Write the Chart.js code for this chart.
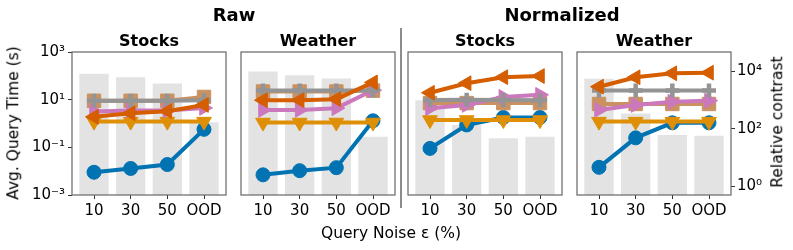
<!DOCTYPE html>
<html>
<head>
<meta charset="utf-8">
<script src="https://cdn.jsdelivr.net/npm/chart.js@4.4.1/dist/chart.umd.min.js"></script>
<style>
  html, body { margin: 0; padding: 0; background: #fff; }
  #wrap { position: relative; width: 793px; height: 250px; overflow: hidden; font-family: "DejaVu Sans", sans-serif; color: #000; }
  #wrap canvas { position: absolute; left: 0; top: 0; }
  .txt { position: absolute; white-space: nowrap; transform: translate(-50%, -50%); line-height: 1; }
  .big { font-size: 18px; font-weight: bold; }
  .sub { font-size: 16px; font-weight: bold; }
  .lab { font-size: 15.5px; }
  .rot { transform: translate(-50%, -50%) rotate(-90deg); }
  #divider { position: absolute; left: 400px; top: 28px; width: 2px; height: 180px; background: #8c8c8c; }
</style>
</head>
<body>
<div id="wrap">
  <canvas id="c1" width="793" height="250"></canvas>
  <canvas id="c2" width="793" height="250"></canvas>
  <canvas id="c3" width="793" height="250"></canvas>
  <canvas id="c4" width="793" height="250"></canvas>
  <div id="divider"></div>
  <div class="txt big" style="left:234px;top:15px">Raw</div>
  <div class="txt big" style="left:562px;top:15px">Normalized</div>
  <div class="txt sub" style="left:149px;top:41px">Stocks</div>
  <div class="txt sub" style="left:318px;top:41px">Weather</div>
  <div class="txt sub" style="left:485px;top:41px">Stocks</div>
  <div class="txt sub" style="left:654px;top:41px">Weather</div>
  <div class="txt lab" style="left:391px;top:234px">Query Noise ε (%)</div>
  <div class="txt lab rot" style="left:14px;top:123px">Avg. Query Time (s)</div>
  <div class="txt lab rot" style="left:778px;top:122px">Relative contrast</div>
</div>
<script>
  const categories = ['10', '30', '50', 'OOD'];
  const timeTicks = [1e-3, 1e-1, 1e1, 1e3];
  const contrastTicks = [1, 1e2, 1e4];

  // rows: circle, down triangle, left triangle, right triangle, square, plus
  const rawStocksTime = [
    [0.009, 0.013, 0.019, 0.57],
    [1.2, 1.2, 1.2, 1.2],
    [1.9, 2.7, 3.3, 6],
    [3.2, 3.5, 3.5, 4.5],
    [9, 9, 9, 13],
    [9, 9, 9, 9.5]
  ];
  const rawStocksContrast = [8300, 6300, 3800, 170];

  const rawWeatherTime = [
    [0.007, 0.0105, 0.014, 1.3],
    [1.1, 1.1, 1.1, 1.1],
    [9.5, 9.5, 10.5, 53],
    [3.7, 3.7, 4.4, 25],
    [22, 22, 22, 24],
    [24, 24, 24, 24]
  ];
  const rawWeatherContrast = [10000, 7400, 5700, 54];

  const normStocksTime = [
    [0.09, 0.87, 1.8, 1.8],
    [1.4, 1.4, 1.4, 1.4],
    [19.5, 49, 88, 98],
    [4.4, 6, 13, 16],
    [7.2, 7.2, 7.2, 7.2],
    [9.6, 10, 9.6, 9.5]
  ];
  const normStocksContrast = [1000, 138, 48, 54];

  const normWeatherTime = [
    [0.0145, 0.25, 1.07, 1.07],
    [1.2, 1.2, 1.2, 1.2],
    [35, 87, 128, 135],
    [3.7, 6, 8.2, 9.1],
    [6.6, 6.6, 6.6, 6.6],
    [24, 24, 24, 24]
  ];
  const normWeatherContrast = [5600, 345, 62, 58];

  // look of each series row, plus draw order (lower = on top)
  const seriesStyle = [
    { color: '#0173B2', point: 'circle',   rot: 0,   r: 7,   bw: 1,   order: 6 },
    { color: '#DE8F05', point: 'triangle', rot: 180, r: 8.5, bw: 1,   order: 5 },
    { color: '#D55E00', point: 'triangle', rot: 270, r: 8.5, bw: 1,   order: 1 },
    { color: '#CC78BC', point: 'triangle', rot: 90,  r: 8.5, bw: 1,   order: 3 },
    { color: '#CA9161', point: 'rect',     rot: 0,   r: 9.5, bw: 1,   order: 4 },
    { color: '#949494', point: 'cross',    rot: 0,   r: 7,   bw: 4.5, order: 2 }
  ];

  const sup = { '-3': '10⁻³', '-1': '10⁻¹', '0': '10⁰', '1': '10¹', '2': '10²', '3': '10³', '4': '10⁴' };
  const fmtPow = v => sup[String(Math.round(Math.log10(v)))] || '';

  const boxPlugin = {
    id: 'box',
    afterDatasetsDraw(chart) {
      const a = chart.chartArea, ctx = chart.ctx;
      ctx.save();
      ctx.strokeStyle = '#666';
      ctx.lineWidth = 1.2;
      ctx.strokeRect(a.left, a.top, a.right - a.left, a.bottom - a.top);
      ctx.restore();
    }
  };

  function makePanel(id, left, right, times, contrast, showLeft, showRight) {
    const toPts = arr => arr.map((v, i) => ({ x: i, y: v }));
    const datasets = [{
      type: 'bar',
      data: toPts(contrast),
      yAxisID: 'y2',
      backgroundColor: '#e3e3e3',
      barPercentage: 1,
      categoryPercentage: 0.8,
      order: 10
    }];
    times.forEach((row, k) => {
      const s = seriesStyle[k];
      datasets.push({
        type: 'line',
        data: toPts(row),
        yAxisID: 'y',
        borderColor: s.color,
        backgroundColor: s.color,
        borderWidth: 4,
        pointStyle: s.point,
        pointRotation: s.rot,
        pointRadius: s.r,
        pointBorderWidth: s.bw,
        pointBackgroundColor: s.color,
        pointBorderColor: s.color,
        tension: 0,
        order: s.order
      });
    });
    const tickFont = { family: 'DejaVu Sans', size: 15 };
    new Chart(document.getElementById(id), {
      type: 'line',
      data: { datasets },
      plugins: [boxPlugin],
      options: {
        responsive: false,
        animation: false,
        devicePixelRatio: 1,
        layout: { padding: { left: showLeft ? 0 : left, right: showRight ? 0 : 793 - right, top: 52, bottom: 25 } },
        plugins: { legend: { display: false }, tooltip: { enabled: false } },
        scales: {
          x: {
            type: 'linear', min: -0.6, max: 3.6, offset: false,
            afterBuildTicks: s => { s.ticks = categories.map((c, i) => ({ value: i })); },
            afterFit: s => { s.height = 30; },
            ticks: { callback: v => categories[v], font: tickFont, color: '#000', padding: 3, maxRotation: 0 },
            grid: { drawOnChartArea: false, offset: false, tickLength: 4, tickColor: '#333' },
            border: { display: false }
          },
          y: {
            type: 'logarithmic', position: 'left', min: 1e-3, max: 1e3,
            display: showLeft,
            afterBuildTicks: s => { s.ticks = timeTicks.map(v => ({ value: v })); },
            afterFit: s => { if (showLeft) s.width = left; },
            ticks: { callback: fmtPow, font: tickFont, color: '#000', padding: 3 },
            grid: { drawOnChartArea: false, tickLength: 4, tickColor: '#333' },
            border: { display: false }
          },
          y2: {
            type: 'logarithmic', position: 'right', min: 0.506, max: 47600,
            display: showRight,
            afterBuildTicks: s => { s.ticks = contrastTicks.map(v => ({ value: v })); },
            afterFit: s => { if (showRight) s.width = 793 - right; },
            ticks: { callback: fmtPow, font: tickFont, color: '#000', padding: 2 },
            grid: { drawOnChartArea: false, tickLength: 4, tickColor: '#333' },
            border: { display: false }
          }
        }
      }
    });
  }

  makePanel('c1', 72, 226, rawStocksTime, rawStocksContrast, true, false);
  makePanel('c2', 241, 395, rawWeatherTime, rawWeatherContrast, false, false);
  makePanel('c3', 408, 562, normStocksTime, normStocksContrast, false, false);
  makePanel('c4', 577, 731, normWeatherTime, normWeatherContrast, false, true);
</script>
</body>
</html>
